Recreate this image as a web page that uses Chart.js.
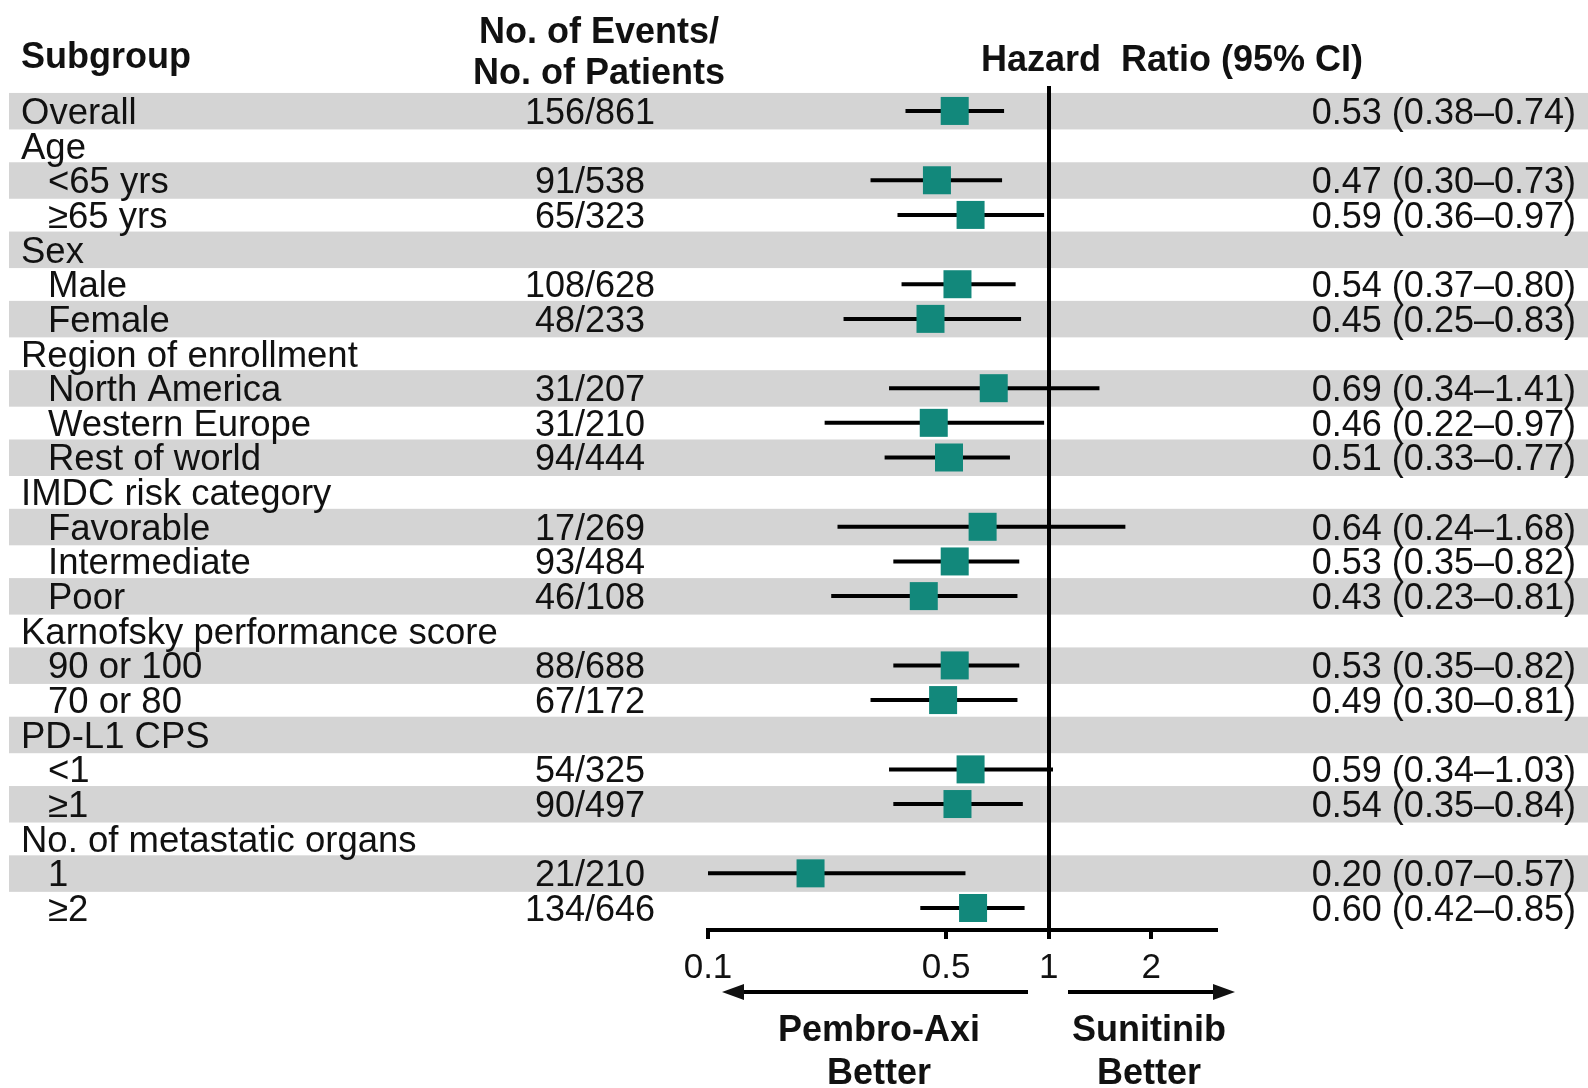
<!DOCTYPE html>
<html>
<head>
<meta charset="utf-8">
<script src="https://cdn.jsdelivr.net/npm/chart.js@4.4.1/dist/chart.umd.min.js"></script>
<style>
  html, body { margin:0; padding:0; background:#fff; }
  #wrap { width:1588px; height:1088px; }
</style>
</head>
<body>
<div id="wrap"><canvas id="forest" width="1588" height="1088"></canvas></div>
<script>
// ---- data ----
const subgroups = [
  'Overall','Age','<65 yrs','≥65 yrs','Sex','Male','Female',
  'Region of enrollment','North America','Western Europe','Rest of world',
  'IMDC risk category','Favorable','Intermediate','Poor',
  'Karnofsky performance score','90 or 100','70 or 80',
  'PD-L1 CPS','<1','≥1','No. of metastatic organs','1','≥2'
];
const level = [0,0,1,1,0,1,1,0,1,1,1,0,1,1,1,0,1,1,0,1,1,0,1,1];
const events = [
  '156/861','','91/538','65/323','','108/628','48/233',
  '','31/207','31/210','94/444',
  '','17/269','93/484','46/108',
  '','88/688','67/172',
  '','54/325','90/497','','21/210','134/646'
];
const hr = [0.53,null,0.47,0.59,null,0.54,0.45,null,0.69,0.46,0.51,null,0.64,0.53,0.43,null,0.53,0.49,null,0.59,0.54,null,0.20,0.60];
const ciLow = [0.38,null,0.30,0.36,null,0.37,0.25,null,0.34,0.22,0.33,null,0.24,0.35,0.23,null,0.35,0.30,null,0.34,0.35,null,0.07,0.42];
const ciHigh = [0.74,null,0.73,0.97,null,0.80,0.83,null,1.41,0.97,0.77,null,1.68,0.82,0.81,null,0.82,0.81,null,1.03,0.84,null,0.57,0.85];
const xTicks = [0.1, 0.5, 1, 2];

const teal = '#12887b';
const band = '#d4d4d4';
const ink = '#111';
const FONT = "'Liberation Sans', Arial, sans-serif";

function fmt(v){ return v.toFixed(2); }

// =======================
// DATASETS
// =======================
const squares = {
  data: hr.map((v,i)=> v==null ? null : {x:v, y:i}).filter(p=>p),
  pointStyle:'rect',
  pointRadius:19.8,
  pointHoverRadius:19.8,
  pointBorderWidth:0,
  backgroundColor:teal,
  borderColor:teal,
  showLine:false
};

const whiskers = [];
hr.forEach((v,i)=>{
  if(v==null) return;
  whiskers.push({
    data:[{x:ciLow[i],y:i},{x:ciHigh[i],y:i}],
    showLine:true,
    borderColor:'#000',
    borderWidth:4,
    pointRadius:0,
    pointHoverRadius:0
  });
});

// =======================
// PLUGIN: bands + text
// =======================
const decor = {
  id:'decor',
  beforeDraw(chart){
    const {ctx} = chart;
    const y = chart.scales.y;
    ctx.save();
    ctx.fillStyle = '#fff';
    ctx.fillRect(0,0,chart.width,chart.height);
    ctx.fillStyle = band;
    subgroups.forEach((s,i)=>{
      if(i%2) return;
      const py = y.getPixelForValue(i);
      ctx.fillRect(9, py-18, chart.width-9, 36.5);
    });
    ctx.restore();
  },
  afterDraw(chart){
    const {ctx} = chart;
    const y = chart.scales.y;
    ctx.save();
    ctx.fillStyle = ink;
    ctx.textBaseline = 'alphabetic';

    // headers
    ctx.font = `bold 36px ${FONT}`;
    ctx.textAlign = 'left';
    ctx.fillText('Subgroup', 21, 68);
    ctx.textAlign = 'center';
    ctx.fillText('No. of Events/', 599, 43);
    ctx.fillText('No. of Patients', 599, 84);
    ctx.textAlign = 'left';
    ctx.fillText('Hazard  Ratio (95% CI)', 981, 71);

    // rows
    subgroups.forEach((s,i)=>{
      const py = y.getPixelForValue(i) + 13;
      ctx.font = `36.5px ${FONT}`;
      ctx.textAlign = 'left';
      ctx.fillText(s, level[i] ? 48 : 21, py);
      ctx.font = `36px ${FONT}`;
      if(events[i]){
        ctx.textAlign = 'center';
        ctx.fillText(events[i], 590, py);
      }
      if(hr[i]!=null){
        ctx.textAlign = 'right';
        ctx.fillText(`${fmt(hr[i])} (${fmt(ciLow[i])}–${fmt(ciHigh[i])})`, 1576, py);
      }
    });

    // direction arrows
    ctx.strokeStyle = '#000';
    ctx.lineWidth = 4;
    const ay = 992;
    ctx.beginPath(); ctx.moveTo(1028, ay); ctx.lineTo(738, ay); ctx.stroke();
    ctx.beginPath(); ctx.moveTo(1068, ay); ctx.lineTo(1218, ay); ctx.stroke();
    ctx.beginPath(); ctx.moveTo(722, ay); ctx.lineTo(744, ay-8); ctx.lineTo(744, ay+8); ctx.closePath(); ctx.fill();
    ctx.beginPath(); ctx.moveTo(1235, ay); ctx.lineTo(1213, ay-8); ctx.lineTo(1213, ay+8); ctx.closePath(); ctx.fill();

    ctx.font = `bold 36px ${FONT}`;
    ctx.textAlign = 'center';
    ctx.fillText('Pembro-Axi', 879, 1041);
    ctx.fillText('Better', 879, 1084);
    ctx.fillText('Sunitinib', 1149, 1041);
    ctx.fillText('Better', 1149, 1084);
    ctx.restore();
  }
};

// =======================
// CHART
// =======================
new Chart(document.getElementById('forest'), {
  type:'scatter',
  data:{ datasets:[squares, ...whiskers] },
  options:{
    responsive:false,
    animation:false,
    events:[],
    layout:{ padding:{ left:708, right:372, top:86, bottom:98 } },
    plugins:{ legend:{display:false}, tooltip:{enabled:false} },
    scales:{
      x:{
        type:'logarithmic',
        position:'bottom',
        min:0.1, max:3.1,
        afterBuildTicks: s => { s.ticks = xTicks.map(v=>({value:v})); },
        afterFit: s => { s.height = 60; },
        ticks:{
          color:ink,
          padding:8,
          autoSkip:false,
          maxRotation:0,
          font:{ family:FONT, size:35 },
          callback: v => String(v)
        },
        grid:{
          color: c => (c.tick && c.tick.value === 1) ? '#000' : 'rgba(0,0,0,0)',
          lineWidth:4,
          tickColor:'#000',
          tickLength:9,
          tickWidth:4
        },
        border:{ display:true, color:'#000', width:4 }
      },
      y:{
        type:'linear',
        display:false,
        reverse:true,
        min:-0.72, max:23.635
      }
    }
  },
  plugins:[decor]
});
</script>
</body>
</html>
